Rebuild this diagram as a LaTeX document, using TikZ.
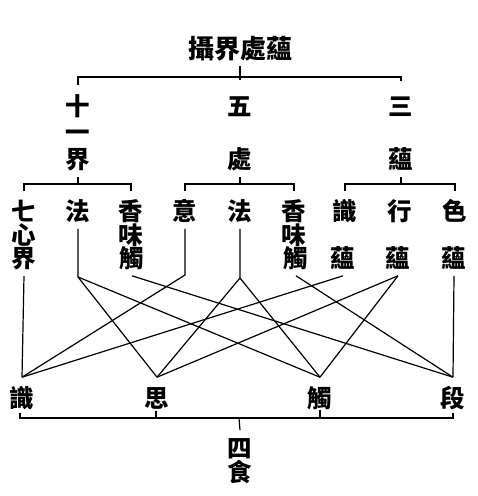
\documentclass[tikz,border=0pt]{standalone}
\usepackage{fontspec}
\newfontfamily\cjk{Noto Sans CJK TC}
\begin{document}
\begin{tikzpicture}[x=1pt,y=-1pt,line width=1.2pt,
  chfont/.style={font=\cjk\bfseries\fontsize{24.5}{24.5}\selectfont,text height=19.6pt,text depth=1pt},
  ch/.style={chfont,inner sep=0pt,outer sep=7.5pt},
  bch/.style={chfont,inner sep=0pt,outer sep=10.5pt},
  ttl/.style={font=\cjk\bfseries\fontsize{26}{26}\selectfont,text height=20.8pt,text depth=1pt,inner sep=0pt,outer sep=6pt}]
\useasboundingbox (0,0) rectangle (478,496);
% title
\node[ttl] (title) at (240,49) {攝界處蘊};
\coordinate (tbm) at (240,80);
\coordinate (tbl) at (78,85);
\coordinate (tbr) at (401,81);
\draw (title.south) -- (tbm);
\draw (tbl) -- (78,77) -- (401,77) -- (tbr);
% first level
\node[ch] (shi) at (78,106) {十};
\node[ch] (yi)  at (78,132) {一};
\node[ch] (jie1) at (78,159) {界};
\node[ch] (wu)  at (240,106) {五};
\node[ch] (chu) at (240,159) {處};
\node[ch] (san) at (401,106) {三};
\node[ch] (yun) at (401,159) {蘊};
\coordinate (b1) at (78,184);
\coordinate (b2) at (240,184);
\coordinate (b3) at (401,184);
\draw (jie1.south) -- (b1);
\draw (chu.south) -- (b2);
\draw (yun.south) -- (b3);
\draw (24,191) -- (24,184) -- (131,184) -- (131,191);
\draw (185,191) -- (185,184) -- (294,184) -- (294,191);
\draw (345,191) -- (345,184) -- (455,184) -- (455,191);
% second level
\node[ch] (qi) at (24,211) {七};
\node[ch] (xin) at (24,235) {心};
\node[ch] (jie2) at (24,258) {界};
\node[ch] (fa1) at (78,211) {法};
\node[ch] (xiang1) at (131,211) {香};
\node[ch] (wei1) at (131,235) {味};
\node[ch] (chu1) at (132,258) {觸};
\node[ch] (yi2) at (185,211) {意};
\node[ch] (fa2) at (240,211) {法};
\node[ch] (xiang2) at (294,211) {香};
\node[ch] (wei2) at (294,235) {味};
\node[ch] (chu2) at (296,258) {觸};
\node[ch] (shi2) at (345,211) {識};
\node[ch] (yun1) at (343,258) {蘊};
\node[ch] (xing) at (400,211) {行};
\node[ch] (yun2) at (398,258) {蘊};
\node[ch] (se) at (455,211) {色};
\node[ch] (yun3) at (454,258) {蘊};
% bottom
\node[bch] (bshi) at (22,398) {識};
\node[bch] (bsi) at (157,398) {思};
\node[bch] (bchu) at (320,398) {觸};
\node[bch] (bduan) at (453,398) {段};
% connectors
\coordinate (fa1j) at (78,277);
\coordinate (yij) at (185,275);
\coordinate (fa2j) at (240,278);
\draw (jie2.south) -- (bshi.north);
\draw (fa1) -- (fa1j) -- (bsi.north);
\draw (fa1j) -- (bchu.north);
\draw (chu1.south) -- (bduan.north);
\draw (yi2) -- (yij) -- (bshi.north);
\draw (fa2) -- (fa2j) -- (bsi.north);
\draw (fa2j) -- (bchu.north);
\draw (chu2.south) -- (bduan.north);
\draw (yun1.south) -- (bshi.north);
\draw (yun2.south) -- (bsi.north);
\draw (yun2.south) -- (bchu.north);
\draw (yun3.south) -- (bduan.north);
% bottom bracket
\draw (20,413) -- (20,418) -- (453,418) -- (453,413);
\draw (156,411) -- (156,418);
\draw (320,410) -- (320,418);
\node[ch] (si4) at (240,448) {四};
\node[ch] (shi4) at (240,472) {食};
\coordinate (bb) at (239,418);
\draw (bb) -- (si4.north);
\end{tikzpicture}
\end{document}
